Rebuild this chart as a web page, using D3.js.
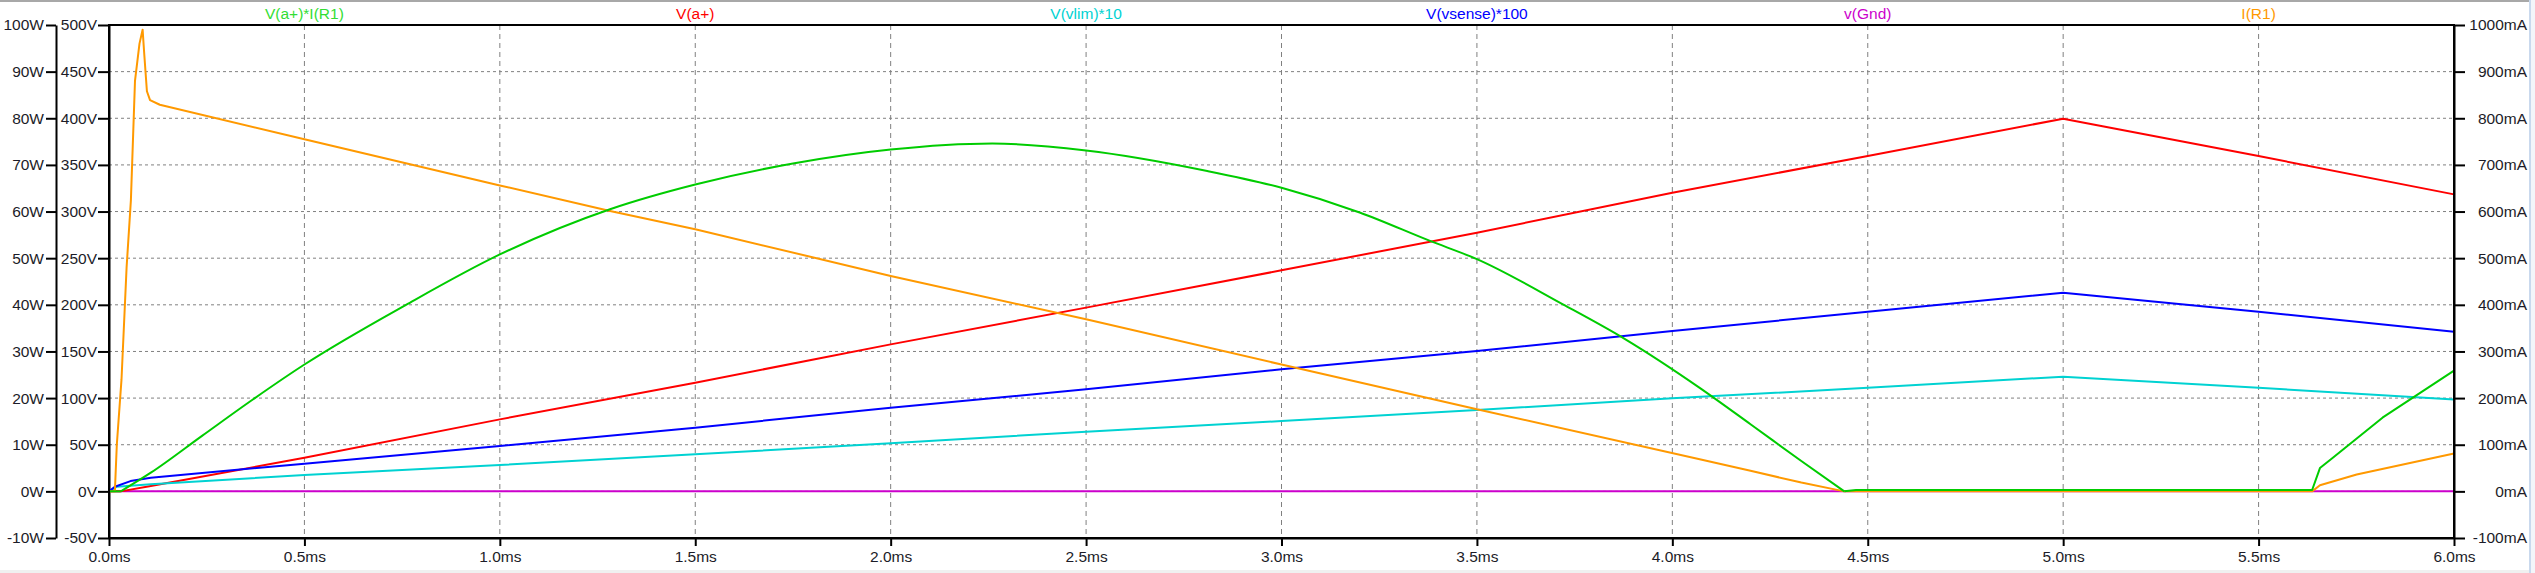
<!DOCTYPE html>
<html>
<head>
<meta charset="utf-8">
<script src="https://cdn.jsdelivr.net/npm/d3@7/dist/d3.min.js"></script>
<style>
html,body{margin:0;padding:0;background:#fff;}
svg{display:block;}
text{font-family:"Liberation Sans",Arial,sans-serif;}
</style>
</head>
<body>
<svg id="chart" width="2535" height="573"></svg>
<script>
// ---------------- data ----------------
const traceNames  = ["V(a+)*I(R1)", "V(a+)", "V(vlim)*10", "V(vsense)*100", "v(Gnd)", "I(R1)"];
const traceColors = ["#00cc00", "#ff0000", "#00d2d2", "#0000ff", "#cc00cc", "#ff9900"];

// V(a+)*I(R1)  [W]
const powerT = [0, 0.03, 0.107, 0.238, 0.368, 0.5, 0.76, 1.0, 1.282, 1.5, 1.75, 2.0, 2.26, 2.5, 2.81, 3.0, 3.2, 3.38, 3.5, 3.72, 3.88, 4.07, 4.2, 4.33, 4.44, 4.47, 5.637, 5.657, 5.69, 5.817, 6.0];
const powerW = [0, 0, 4.0, 11.9, 19.7, 27.2, 40.0, 50.8, 60.5, 65.8, 70.3, 73.3, 74.6, 73.1, 68.7, 65.1, 59.8, 53.7, 49.8, 40.1, 32.6, 22.2, 14.4, 6.5, 0, 0.3, 0.3, 5.0, 7.2, 15.8, 25.9];

// V(a+)  [V]
const vaT = [0, 0.03, 0.107, 0.5, 1.0, 1.5, 2.0, 2.5, 3.0, 3.5, 4.0, 4.5, 5.0, 5.5, 6.0];
const vaV = [0, 0, 5.7, 36, 77.2, 116.5, 157.6, 197, 237, 277.3, 320.2, 359.5, 399.6, 359.5, 318.4];

// V(vlim)*10  [V]
const vlimT = [0, 0.02, 0.107, 0.5, 1.0, 1.5, 2.0, 2.5, 3.0, 3.5, 4.0, 4.5, 5.0, 5.5, 6.0];
const vlimV = [0, 5, 7.5, 17.5, 28.2, 39.7, 51.5, 64, 75.4, 87.2, 99.7, 111, 123, 111, 98.6];

// V(vsense)*100  [V]
const vsenseT = [0, 0.015, 0.055, 0.107, 0.5, 1.0, 1.5, 2.0, 2.5, 3.0, 3.5, 4.0, 4.5, 5.0, 5.5, 6.0];
const vsenseV = [0, 5, 11, 14.7, 29.7, 48.6, 68.3, 89.7, 109.4, 130.8, 150.5, 171.9, 192.6, 213, 192.6, 171.2];

// v(Gnd)  [V]
const gndT = [0, 6.0];
const gndV = [0, 0];

// I(R1)  [mA]
const irT  = [0, 0.015, 0.02, 0.032, 0.045, 0.056, 0.0665, 0.078, 0.086, 0.09, 0.097, 0.105, 0.13, 0.5, 1.0, 1.282, 1.5, 2.0, 2.5, 3.0, 3.5, 4.07, 4.2, 4.33, 4.44, 5.637, 5.657, 5.751, 6.0];
const irMA = [0, 0, 100, 240, 480, 624, 880, 960, 990, 940, 858, 839, 829, 755, 656, 601, 562, 462, 369, 272, 176, 69, 44, 19, 0, 0, 13, 36, 81];

// axis ticks
const timeTicks  = [0, 0.5, 1.0, 1.5, 2.0, 2.5, 3.0, 3.5, 4.0, 4.5, 5.0, 5.5, 6.0];
const timeLabels = ["0.0ms","0.5ms","1.0ms","1.5ms","2.0ms","2.5ms","3.0ms","3.5ms","4.0ms","4.5ms","5.0ms","5.5ms","6.0ms"];
const voltTicks  = [-50, 0, 50, 100, 150, 200, 250, 300, 350, 400, 450, 500];
const wattTicks  = [-10, 0, 10, 20, 30, 40, 50, 60, 70, 80, 90, 100];
const ampTicks   = [-100, 0, 100, 200, 300, 400, 500, 600, 700, 800, 900, 1000];

// ---------------- drawing ----------------
const svg = d3.select("#chart");
const W = 2535, H = 573;
const L = 109, R = 2454, T = 25, B = 538;

const x  = d3.scaleLinear().domain([0, 6]).range([L, R]);
const yV = d3.scaleLinear().domain([-50, 500]).range([B, T]);
const yW = d3.scaleLinear().domain([-10, 100]).range([B, T]);
const yA = d3.scaleLinear().domain([-100, 1000]).range([B, T]);

// window chrome
svg.append("rect").attr("x",0).attr("y",0).attr("width",W).attr("height",H).attr("fill","#fff");
svg.append("rect").attr("x",0).attr("y",0).attr("width",W).attr("height",2).attr("fill","#a8a8a8");
svg.append("rect").attr("x",0).attr("y",570).attr("width",W).attr("height",3).attr("fill","#f0f0f0");
svg.append("rect").attr("x",2529).attr("y",0).attr("width",2).attr("height",H).attr("fill","#c9d9ee");
svg.append("rect").attr("x",2531).attr("y",0).attr("width",4).attr("height",H).attr("fill","#f3f6fa");

const font = "15.5px";
const txtColor = "#1c1c28";

// grid
const grid = svg.append("g");
grid.selectAll("line.h").data(voltTicks.filter(v => v > -50 && v < 500)).join("line")
  .attr("x1", L).attr("x2", R).attr("y1", d => yV(d)).attr("y2", d => yV(d))
  .attr("stroke", "#808080").attr("stroke-width", 1).attr("stroke-dasharray", "3,3");
grid.selectAll("line.v").data(timeTicks.filter(t => t > 0 && t < 6)).join("line")
  .attr("y1", T).attr("y2", B).attr("x1", d => x(d)).attr("x2", d => x(d))
  .attr("stroke", "#808080").attr("stroke-width", 1).attr("stroke-dasharray", "5,4");

function styleAxis(g) {
  g.selectAll("path.domain").attr("stroke", "#000").attr("stroke-width", 2);
  g.selectAll(".tick line").attr("stroke", "#000").attr("stroke-width", 2);
  g.selectAll(".tick text").attr("fill", txtColor).style("font-size", font)
    .style("font-family", '"Liberation Sans", Arial, sans-serif');
}

// left W axis
const gW = svg.append("g").attr("transform", "translate(56,0)")
  .call(d3.axisLeft(yW).tickValues(wattTicks).tickFormat(d => d + "W").tickSize(10).tickSizeOuter(0).tickPadding(2));
styleAxis(gW);

// left V axis
const gV = svg.append("g").attr("transform", `translate(${L},0)`)
  .call(d3.axisLeft(yV).tickValues(voltTicks).tickFormat(d => d + "V").tickSize(11).tickSizeOuter(0).tickPadding(1));
styleAxis(gV);

// right mA axis
const gA = svg.append("g").attr("transform", `translate(${R},0)`)
  .call(d3.axisRight(yA).tickValues(ampTicks).tickFormat(d => d + "mA").tickSize(11).tickSizeOuter(0));
styleAxis(gA);
gA.selectAll(".tick text").attr("text-anchor", "end").attr("x", 2527 - R);

// bottom time axis
const gX = svg.append("g").attr("transform", `translate(0,${B})`)
  .call(d3.axisBottom(x).tickValues(timeTicks).tickFormat((d, i) => timeLabels[i]).tickSize(8).tickSizeOuter(0).tickPadding(5));
styleAxis(gX);

// traces
const series = [
  {t: powerT,  v: powerW,  y: yW, smoothUntil: 4.44},
  {t: vaT,     v: vaV,     y: yV},
  {t: vlimT,   v: vlimV,   y: yV},
  {t: vsenseT, v: vsenseV, y: yV},
  {t: gndT,    v: gndV,    y: yV},
  {t: irT,     v: irMA,    y: yA}
];
const drawOrder = [4, 1, 2, 3, 5, 0];
const plot = svg.append("g");
function drawPath(pts, yScale, curve, color) {
  const line = d3.line().curve(curve).x(d => x(d[0])).y(d => yScale(d[1]));
  plot.append("path").datum(pts).attr("d", line)
    .attr("fill", "none").attr("stroke", color).attr("stroke-width", 2)
    .attr("stroke-linejoin", "round");
}
drawOrder.forEach(i => {
  const s = series[i];
  const pts = s.t.map((t, k) => [t, s.v[k]]);
  if (s.smoothUntil !== undefined) {
    drawPath(pts.filter(p => p[0] >= 0.03 && p[0] <= s.smoothUntil), s.y, d3.curveMonotoneX, traceColors[i]);
    drawPath(pts.filter(p => p[0] <= 0.03), s.y, d3.curveLinear, traceColors[i]);
    drawPath(pts.filter(p => p[0] >= s.smoothUntil), s.y, d3.curveLinear, traceColors[i]);
  } else {
    drawPath(pts, s.y, d3.curveLinear, traceColors[i]);
  }
});

// frame
svg.append("rect").attr("x", L).attr("y", T).attr("width", R - L).attr("height", B - T)
  .attr("fill", "none").attr("stroke", "#000").attr("stroke-width", 2);

// trace names
const band = (R - L) / traceNames.length;
svg.append("g").selectAll("text").data(traceNames).join("text")
  .attr("x", (d, i) => L + (i + 0.5) * band).attr("y", 19)
  .attr("text-anchor", "middle").style("font-size", font)
  .attr("fill", (d, i) => i === 0 ? "#33dd33" : traceColors[i])
  .text(d => d);
</script>
</body>
</html>
